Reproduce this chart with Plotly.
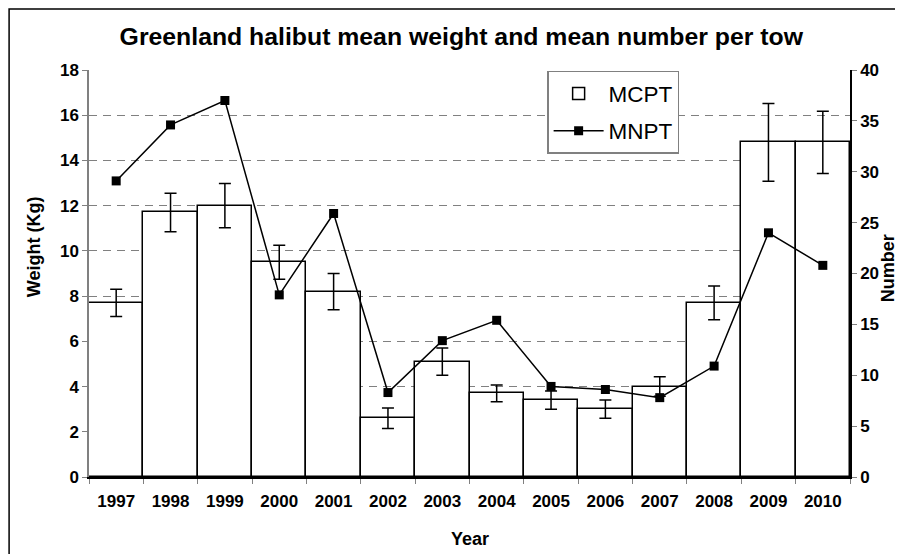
import plotly.graph_objects as go

### Data
years = ['1997', '1998', '1999', '2000', '2001', '2002', '2003',
         '2004', '2005', '2006', '2007', '2008', '2009', '2010']
# mean weight per tow (Kg), left axis
mcpt = [7.7, 11.7, 12.0, 9.5, 8.2, 2.6, 5.1, 3.7, 3.4, 3.0, 4.0, 7.7, 14.8, 14.8]
mcpt_err = [0.6, 0.85, 0.98, 0.75, 0.8, 0.45, 0.6, 0.37, 0.4, 0.4, 0.43, 0.75, 1.72, 1.38]
# mean number per tow, right axis
mnpt = [29.1, 34.6, 37.0, 17.9, 25.9, 8.3, 13.4, 15.4, 8.9, 8.6, 7.8, 10.9, 24.0, 20.8]

FONT = 'Arial, Liberation Sans, sans-serif'
TICKFONT = dict(size=17, weight='bold', color='black')

fig = go.Figure()

# MCPT bars
fig.add_trace(
    go.Bar(
        name='MCPT',
        x=years,
        y=mcpt,
        marker=dict(color='white', line=dict(color='black', width=1.5)),
        error_y=dict(type='data', array=mcpt_err, color='black', thickness=1.5, width=6),
        legendgroup='a',
        yaxis='y'
    ))
# MNPT line
fig.add_trace(
    go.Scatter(
        name='MNPT',
        x=years,
        y=mnpt,
        mode='lines+markers',
        line=dict(color='black', width=1.5),
        marker=dict(symbol='square', size=9, color='black'),
        legendgroup='b',
        yaxis='y2'
    ))

# the page body adds 8px, so margins are shifted to keep the plot area in place
fig.update_layout(
    width=903,
    height=554,
    margin=dict(l=81, r=61, t=62, b=85),
    paper_bgcolor='white',
    plot_bgcolor='white',
    font=dict(family=FONT, color='black'),
    bargap=0,
    title=dict(text='<b>Greenland halibut mean weight and mean number per tow</b>',
               x=0.502, xanchor='center', xref='container',
               y=0.9495, yanchor='middle', yref='container',
               font=dict(size=24.8, color='black')),
    xaxis=dict(
        type='category', range=[-0.5, 13.5],
        showline=True, linecolor='black', linewidth=1.5,
        ticks='outside', ticklen=5, tickcolor='#808080', tickson='boundaries',
        tickfont=TICKFONT,
        ticklabelstandoff=8,
        showgrid=False,
    ),
    yaxis=dict(
        range=[0, 18], dtick=2,
        showline=True, linecolor='#808080', linewidth=1.5,
        ticks='outside', ticklen=5, tickcolor='#808080',
        tickfont=TICKFONT,
        showgrid=True, gridcolor='#808080', gridwidth=1, griddash='8px,6px',
        zeroline=False,
    ),
    yaxis2=dict(
        range=[0, 40], dtick=5, overlaying='y', side='right',
        showline=True, linecolor='black', linewidth=1.5,
        ticks='outside', ticklen=5, tickcolor='#808080',
        tickfont=TICKFONT,
        showgrid=False, zeroline=False,
    ),
    legend=dict(
        x=0.602, y=0.998, xanchor='left', yanchor='top',
        bgcolor='white', bordercolor='#808080', borderwidth=1.5,
        font=dict(size=22.5, color='black'),
        traceorder='grouped', tracegroupgap=5, itemwidth=50,
    ),
    showlegend=True,
)

# axis titles
fig.add_annotation(text='<b>Weight (Kg)</b>', x=-0.072, y=0.565, xref='paper', yref='paper',
                   xanchor='center', yanchor='middle',
                   textangle=-90, showarrow=False, font=dict(size=18))
fig.add_annotation(text='<b>Number</b>', x=1.05, y=0.513, xref='paper', yref='paper',
                   xanchor='center', yanchor='middle',
                   textangle=-90, showarrow=False, font=dict(size=18))
fig.add_annotation(text='<b>Year</b>', x=0.5, y=-0.152, xref='paper', yref='paper',
                   xanchor='center', yanchor='middle',
                   showarrow=False, font=dict(size=18))

# outer chart border
fig.add_shape(type='rect', xref='paper', yref='paper',
              x0=-0.105, x1=1.08, y0=-0.25, y1=1.15,
              line=dict(color='black', width=1.5), layer='below')

fig.write_html("out.html")
